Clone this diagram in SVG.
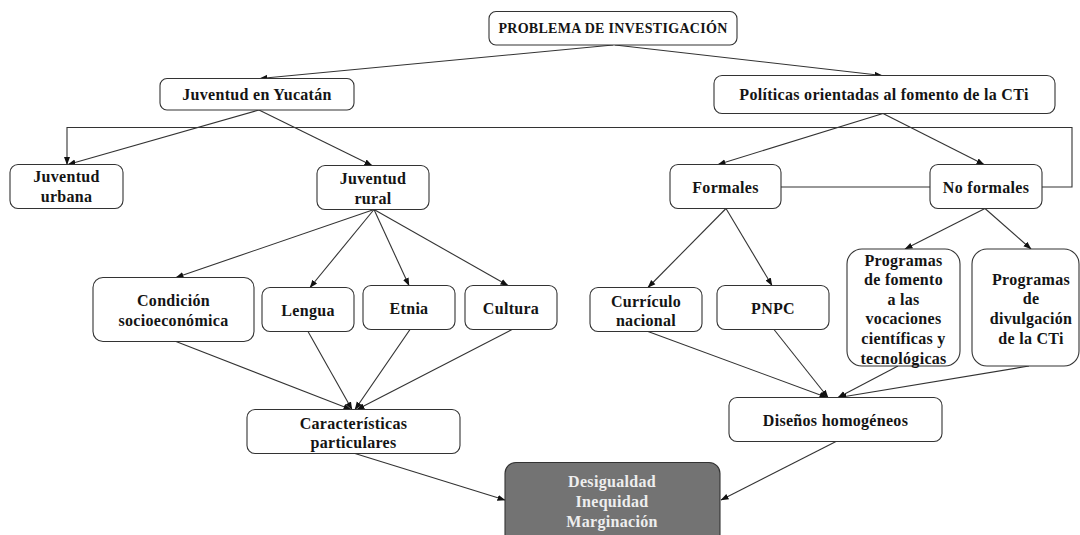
<svg xmlns="http://www.w3.org/2000/svg" width="1080" height="535" viewBox="0 0 1080 535">
  <style>
    .box { fill: #ffffff; stroke: #333333; stroke-width: 1.1; }
    .dark { fill: #737373; stroke: #333333; stroke-width: 1.1; }
    .t { font-family: "Liberation Serif", "Times New Roman", serif; font-weight: bold; font-size: 16px; letter-spacing: 0.3px; fill: #141414; text-anchor: middle; dominant-baseline: central; }
    .tt { font-size: 14px; }
    .tw { fill: #eeeeee; }
    .c { fill: none; stroke: #333333; stroke-width: 1.1; }
    .a { marker-end: url(#arrow); }
  </style>
  <defs>
    <marker id="arrow" markerUnits="userSpaceOnUse" markerWidth="8" markerHeight="8" viewBox="0 0 8 8" refX="7.5" refY="4" orient="auto">
      <path d="M0,1 L8,4 L0,7 Z" fill="#111111"/>
    </marker>
  </defs>

  <!-- connectors -->
  <g id="connectors">
    <line class="c a" x1="613" y1="45" x2="260" y2="78.5"/>
    <line class="c a" x1="615" y1="45" x2="882" y2="75.5"/>
    <line class="c a" x1="259" y1="110" x2="68" y2="164.5"/>
    <line class="c a" x1="259" y1="110" x2="372" y2="165.5"/>
    <line class="c" x1="781" y1="187" x2="930" y2="187"/>
    <polyline class="c a" points="1042,187 1072,187 1072,127.5 67,127.5 67,164.5"/>
    <line class="c a" x1="883" y1="113.5" x2="718" y2="164.5"/>
    <line class="c a" x1="883" y1="113.5" x2="984" y2="164.5"/>
    <line class="c a" x1="374" y1="209.5" x2="176" y2="277.5"/>
    <line class="c a" x1="374" y1="209.5" x2="310" y2="287.5"/>
    <line class="c a" x1="374" y1="209.5" x2="409" y2="285.5"/>
    <line class="c a" x1="374" y1="209.5" x2="508" y2="285.5"/>
    <line class="c a" x1="176" y1="341.5" x2="351" y2="409.5"/>
    <line class="c a" x1="308" y1="331.5" x2="352" y2="409.5"/>
    <line class="c a" x1="410" y1="329.5" x2="355" y2="409.5"/>
    <line class="c a" x1="512" y1="329.5" x2="357" y2="409.5"/>
    <line class="c a" x1="355" y1="453.5" x2="505" y2="500"/>
    <line class="c a" x1="726" y1="208.5" x2="648" y2="287.5"/>
    <line class="c a" x1="726" y1="208.5" x2="772" y2="285.5"/>
    <line class="c a" x1="985" y1="208.5" x2="905" y2="249"/>
    <line class="c a" x1="985" y1="208.5" x2="1031" y2="249"/>
    <line class="c a" x1="648" y1="331.5" x2="827" y2="397.5"/>
    <line class="c a" x1="774" y1="329.5" x2="828" y2="397.5"/>
    <line class="c a" x1="898" y1="366" x2="838" y2="397.5"/>
    <line class="c a" x1="1029" y1="366" x2="839" y2="397.5"/>
    <line class="c a" x1="836" y1="441.5" x2="721" y2="500"/>
  </g>

  <g id="problema">
    <rect class="box" x="489" y="11.5" width="248" height="33.5" rx="7"/>
    <text class="t tt" x="613" y="28.5">PROBLEMA DE INVESTIGACIÓN</text>
  </g>
  <g id="juventud-yucatan">
    <rect class="box" x="160" y="78.5" width="194" height="31.5" rx="7"/>
    <text class="t" x="257" y="94.5">Juventud en Yucatán</text>
  </g>
  <g id="politicas">
    <rect class="box" x="714" y="75.5" width="341" height="38" rx="8"/>
    <text class="t" x="884" y="94.5">Políticas orientadas al fomento de la CTi</text>
  </g>
  <g id="juventud-urbana">
    <rect class="box" x="10" y="164.5" width="113" height="44" rx="8"/>
    <text class="t" x="66.5" y="176.5">Juventud</text>
    <text class="t" x="66.5" y="196.5">urbana</text>
  </g>
  <g id="juventud-rural">
    <rect class="box" x="317" y="165.5" width="112" height="44" rx="8"/>
    <text class="t" x="373" y="178.5">Juventud</text>
    <text class="t" x="373" y="198">rural</text>
  </g>
  <g id="formales">
    <rect class="box" x="670" y="164.5" width="111" height="44" rx="8"/>
    <text class="t" x="725.5" y="187">Formales</text>
  </g>
  <g id="no-formales">
    <rect class="box" x="930" y="164.5" width="112" height="44" rx="8"/>
    <text class="t" x="986" y="187">No formales</text>
  </g>
  <g id="condicion">
    <rect class="box" x="93" y="277.5" width="161" height="64" rx="10"/>
    <text class="t" x="173.5" y="300.5">Condición</text>
    <text class="t" x="173.5" y="320">socioeconómica</text>
  </g>
  <g id="lengua">
    <rect class="box" x="262" y="287.5" width="92" height="44" rx="8"/>
    <text class="t" x="308" y="310">Lengua</text>
  </g>
  <g id="etnia">
    <rect class="box" x="363" y="285.5" width="92" height="44" rx="8"/>
    <text class="t" x="409" y="308">Etnia</text>
  </g>
  <g id="cultura">
    <rect class="box" x="465" y="285.5" width="92" height="44" rx="8"/>
    <text class="t" x="511" y="308">Cultura</text>
  </g>
  <g id="curriculo">
    <rect class="box" x="590" y="287.5" width="112" height="44" rx="8"/>
    <text class="t" x="646" y="301">Currículo</text>
    <text class="t" x="646" y="320">nacional</text>
  </g>
  <g id="pnpc">
    <rect class="box" x="717" y="285.5" width="112" height="44" rx="8"/>
    <text class="t" x="773" y="308">PNPC</text>
  </g>
  <g id="programas-fomento">
    <rect class="box" x="847" y="249" width="113" height="117" rx="15"/>
    <text class="t" x="903.5" y="260">Programas</text>
    <text class="t" x="903.5" y="279.5">de fomento</text>
    <text class="t" x="903.5" y="299">a las</text>
    <text class="t" x="903.5" y="318.5">vocaciones</text>
    <text class="t" x="903.5" y="338.5">científicas y</text>
    <text class="t" x="903.5" y="358">tecnológicas</text>
  </g>
  <g id="programas-divulgacion">
    <rect class="box" x="972" y="249" width="107" height="117" rx="15"/>
    <text class="t" x="1031" y="279">Programas</text>
    <text class="t" x="1031" y="298.7">de</text>
    <text class="t" x="1031" y="318.5">divulgación</text>
    <text class="t" x="1031" y="338">de la CTi</text>
  </g>
  <g id="caracteristicas">
    <rect class="box" x="247" y="409.5" width="213" height="44" rx="8"/>
    <text class="t" x="353.5" y="423">Características</text>
    <text class="t" x="353.5" y="442.5">particulares</text>
  </g>
  <g id="disenos">
    <rect class="box" x="729" y="397.5" width="213" height="44" rx="8"/>
    <text class="t" x="835.5" y="420">Diseños homogéneos</text>
  </g>
  <g id="desigualdad">
    <rect class="dark" x="505" y="462.5" width="215" height="85" rx="11"/>
    <text class="t tw" x="612" y="481.5">Desigualdad</text>
    <text class="t tw" x="612" y="501">Inequidad</text>
    <text class="t tw" x="612" y="521">Marginación</text>
  </g>
</svg>
